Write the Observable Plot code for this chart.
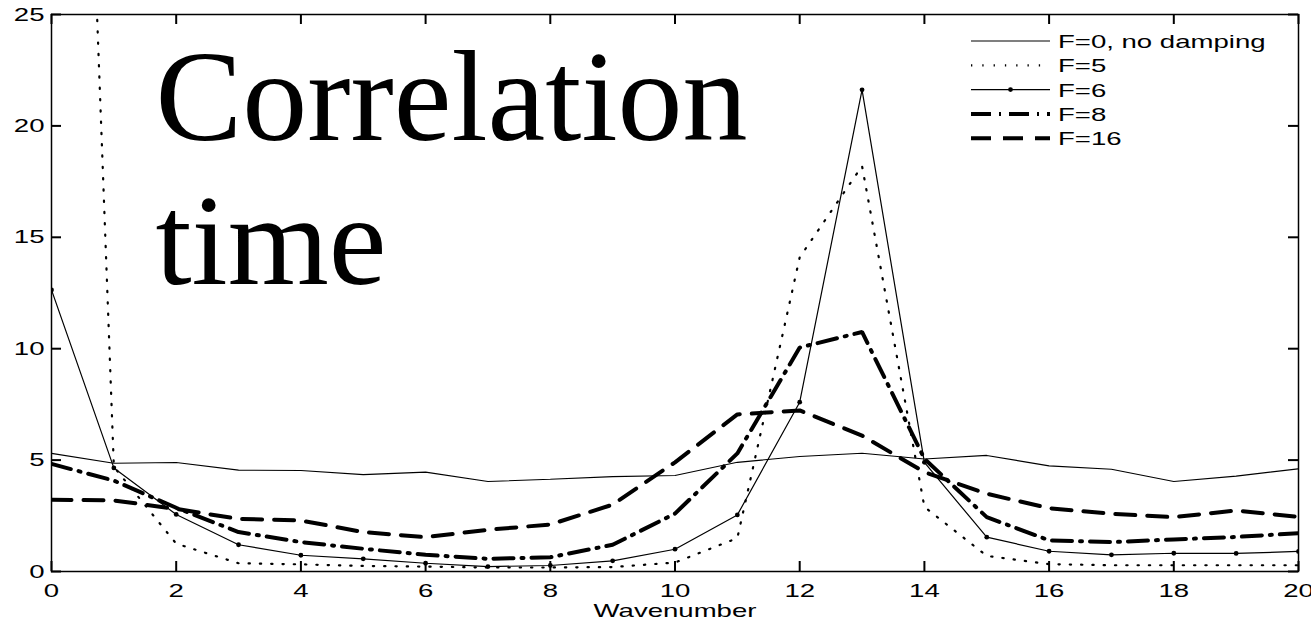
<!DOCTYPE html>
<html><head><meta charset="utf-8">
<script src="https://cdn.jsdelivr.net/npm/d3@7"></script>
<script src="https://cdn.jsdelivr.net/npm/@observablehq/plot@0.6"></script>
<style>
body{margin:0;background:#fff}
#chart{position:relative;width:1311px;height:625px}
</style>
</head><body><div id="chart"></div>
<script>
// ---- data ----
const wavenumber = [0,1,2,3,4,5,6,7,8,9,10,11,12,13,14,15,16,17,18,19,20];
const seriesNames = ["F=0, no damping","F=5","F=6","F=8","F=16"];
const f0  = [5.3,4.86,4.89,4.55,4.53,4.35,4.46,4.04,4.14,4.26,4.31,4.9,5.16,5.31,5.05,5.21,4.74,4.59,4.04,4.28,4.61];
const f5  = [80,4.7,1.25,0.37,0.32,0.25,0.22,0.18,0.18,0.2,0.4,1.5,14.1,18.2,2.9,0.7,0.33,0.28,0.28,0.28,0.28];
const f6  = [12.64,4.65,2.56,1.2,0.73,0.57,0.37,0.22,0.27,0.48,1.0,2.54,7.6,21.62,4.9,1.54,0.91,0.75,0.82,0.81,0.9];
const f8  = [4.83,4.08,2.86,1.77,1.32,1.02,0.75,0.57,0.64,1.2,2.6,5.3,10.05,10.75,5.06,2.44,1.4,1.32,1.44,1.55,1.72];
const f16 = [3.22,3.19,2.81,2.36,2.29,1.77,1.54,1.87,2.11,3.0,4.9,7.05,7.23,6.1,4.46,3.49,2.84,2.59,2.44,2.74,2.45];
const xTicks = [0,2,4,6,8,10,12,14,16,18,20];
const yTicks = [0,5,10,15,20,25];
const titleLines = "Correlation\ntime";
const xLabel = "Wavenumber";

// ---- layout / styles ----
const W = 1311, H = 625, mL = 51, mR = 13, mT = 14, mB = 54;
const frameW = W - mL - mR, frameH = H - mT - mB, tickLen = 10;
const styles = {
  "F=0, no damping": {strokeWidth:1.1, strokeDasharray:null},
  "F=5": {strokeWidth:2.2, strokeDasharray:"1.3,10"},
  "F=6": {strokeWidth:1.2, strokeDasharray:null, marker:true},
  "F=8": {strokeWidth:4, strokeDasharray:"20,8,2,8"},
  "F=16": {strokeWidth:4, strokeDasharray:"20,12"}
};
const values = [f0,f5,f6,f8,f16];
const rows = seriesNames.map((name,i)=>wavenumber.map((k,j)=>({k, v: values[i][j], name})));

const lineMarks = rows.map((data,i)=>{
  const s = styles[seriesNames[i]];
  return Plot.line(data, {x:"k", y:"v", stroke:"black", strokeWidth:s.strokeWidth,
    strokeDasharray:s.strokeDasharray, strokeLinejoin:"miter", clip:true});
});

const chart = Plot.plot({
  width:W, height:H,
  marginLeft:mL, marginRight:mR, marginTop:mT, marginBottom:mB,
  style:{fontFamily:"'Liberation Sans', Arial, sans-serif", fontSize:"19px", color:"#000", background:"#fff", overflow:"visible"},
  x:{domain:[0,20]},
  y:{domain:[0,25]},
  marks:[
    Plot.axisX({ticks:xTicks, tickSize:0, tickPadding:12, label:null, fontSize:19}),
    Plot.axisY({ticks:yTicks, tickSize:0, tickPadding:7, label:null, fontSize:19}),
    // inward ticks on all four sides
    Plot.ruleX(xTicks, {x:d=>d, insetTop:frameH - tickLen, stroke:"black", strokeWidth:2}),
    Plot.ruleX(xTicks, {x:d=>d, insetBottom:frameH - tickLen, stroke:"black", strokeWidth:2}),
    Plot.ruleY(yTicks, {y:d=>d, insetRight:frameW - tickLen, stroke:"black", strokeWidth:2}),
    Plot.ruleY(yTicks, {y:d=>d, insetLeft:frameW - tickLen, stroke:"black", strokeWidth:2}),
    ...lineMarks,
    Plot.dot(rows[2], {x:"k", y:"v", r:2.4, fill:"black", clip:true}),
    Plot.frame({stroke:"black", strokeWidth:1.5}),
    Plot.text([titleLines], {text:d=>d, frameAnchor:"top-left", dx:104, dy:23, lineAnchor:"top", textAnchor:"start",
      fontSize:130, lineHeight:1.11, fontFamily:"'Liberation Serif', 'Times New Roman', serif", fill:"black"}),
    Plot.text([xLabel], {text:d=>d, frameAnchor:"bottom", dy:32, lineAnchor:"top", fontSize:19, fill:"black"})
  ]
});
document.getElementById("chart").appendChild(chart);

const svg = d3.select(chart);

// ---- legend (inside plot, top right) ----
const lg = svg.append("g").attr("class","legend");
const lx0 = 971, lx1 = 1050, tx = 1058, ly0 = 41, ldy = 24.3;
seriesNames.forEach((name,i)=>{
  const s = styles[name];
  const y = ly0 + i*ldy;
  lg.append("line").attr("x1",lx0).attr("x2",lx1).attr("y1",y).attr("y2",y)
    .attr("stroke","black").attr("stroke-width",s.strokeWidth)
    .attr("stroke-dasharray",s.strokeDasharray);
  if (s.marker) lg.append("circle").attr("cx",(lx0+lx1)/2).attr("cy",y).attr("r",2.4).attr("fill","black");
  lg.append("text").attr("x",tx).attr("y",y+7).attr("font-size",19).attr("text-anchor","start").attr("fill","black").text(name);
});

// horizontal stretch of sans text to match the reference's wide lettering
const factor = 1.45;
svg.selectAll("text").each(function(){
  const t = this;
  const fam = getComputedStyle(t).fontFamily || "";
  if (fam.includes("Serif")) return;
  const len = t.getComputedTextLength();
  if (len > 0) {
    t.setAttribute("textLength", len*factor);
    t.setAttribute("lengthAdjust","spacingAndGlyphs");
  }
});
</script>
</body></html>
